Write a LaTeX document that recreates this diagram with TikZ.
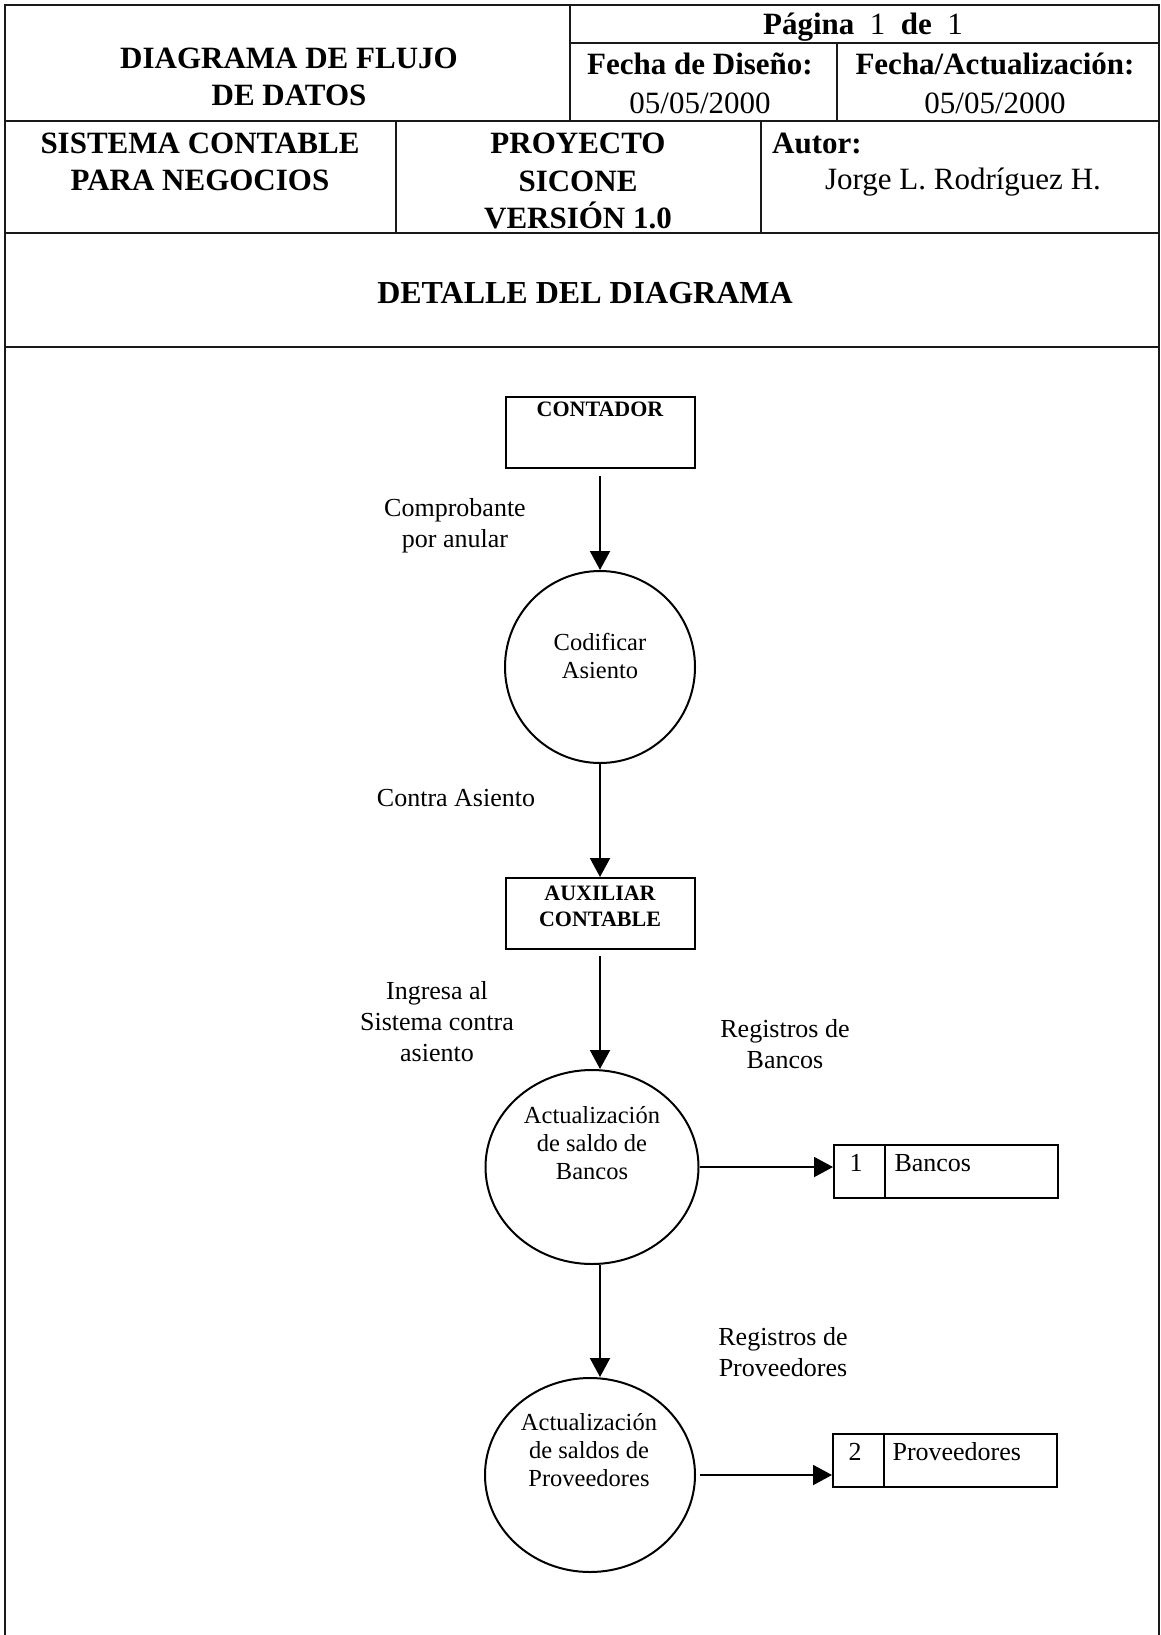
\documentclass[tikz,border=0pt]{standalone}
\usepackage{fontspec}
\setmainfont{Liberation Serif}
\usetikzlibrary{arrows.meta,positioning,shapes.geometric}
\tikzset{
  grid/.style={line width=2.2pt,draw=black!90},
  head/.style={align=center,inner sep=0pt,font=\fontsize{31}{38}\selectfont},
  entity/.style={draw,line width=2pt,minimum width=189pt,minimum height=71pt},
  entitytext/.style={align=center,font=\fontsize{22}{26}\selectfont\bfseries},
  process/.style={draw,ellipse,line width=2pt,inner sep=0pt},
  proctext/.style={align=center,font=\fontsize{24.5}{28}\selectfont},
  store/.style={draw,line width=2pt,minimum width=224pt,minimum height=53pt,inner sep=0pt},
  storetext/.style={font=\fontsize{26}{31}\selectfont},
  flowlabel/.style={align=center,font=\fontsize{26}{31}\selectfont},
  flow/.style={-{Triangle[length=19pt,width=20pt]},line width=2pt}
}

\begin{document}
\begin{tikzpicture}[x=1pt,y=-1pt]
  \useasboundingbox (0,0) rectangle (1161,1635);
  % marco de la hoja
  \draw[grid] (5,1635) -- (5,5) -- (1159,5) -- (1159,1635);
  \draw[grid] (570,5) -- (570,121);
  \draw[grid] (570,43) -- (1159,43);
  \draw[grid] (837,43) -- (837,121);
  \draw[grid] (5,121) -- (1159,121);
  \draw[grid] (396,121) -- (396,233);
  \draw[grid] (761,121) -- (761,233);
  \draw[grid] (5,233) -- (1159,233);
  \draw[grid] (5,347) -- (1159,347);

  % encabezado
  \node[head,font=\fontsize{31}{37}\selectfont\bfseries] (titulo) at (289,77) {DIAGRAMA DE FLUJO\\DE DATOS};
  \node[head,anchor=base] (pagina) at (863,35) {\textbf{Página}\ \ 1\ \ \textbf{de}\ \ 1};
  \node[head,font=\fontsize{31}{39}\selectfont] (diseno) at (700,83) {\textbf{Fecha de Diseño:}\\05/05/2000};
  \node[head,font=\fontsize{31}{39}\selectfont] (actualiz) at (995,83) {\textbf{Fecha/Actualización:}\\05/05/2000};
  \node[head,font=\fontsize{31}{37}\selectfont\bfseries] (sistema) at (200,162) {SISTEMA CONTABLE\\PARA NEGOCIOS};
  \node[head,font=\fontsize{31}{37.5}\selectfont\bfseries] (proyecto) at (578,181) {PROYECTO\\SICONE\\VERSIÓN 1.0};
  \node[head,anchor=west,font=\fontsize{31}{37}\selectfont\bfseries] (autor) at (772,143) {Autor:};
  \node[head] (nombre) at (963,182) {Jorge L. Rodríguez H.};
  \node[head,font=\fontsize{32}{38}\selectfont\bfseries] (detalle) at (585,293) {DETALLE DEL DIAGRAMA};

  % entidades y procesos
  \node[entity] (contador) at (600,432.5) {};
  \node[entitytext,anchor=north] (contador-t) at ([yshift=-2pt]contador.north) {CONTADOR};
  \node[process,minimum width=190pt,minimum height=192pt] (codificar) at (600,667) {};
  \node[proctext] (codificar-t) at (600,656) {Codificar\\Asiento};
  \node[entity] (auxiliar) at (600,913.5) {};
  \node[entitytext] (auxiliar-t) at (600,906) {AUXILIAR\\CONTABLE};
  \node[process,minimum width=213pt,minimum height=194pt] (actbancos) at (592,1167) {};
  \node[proctext] (actbancos-t) at (592,1143) {Actualización\\de saldo de\\Bancos};
  \node[process,minimum width=210pt,minimum height=194pt] (actprov) at (590,1475) {};
  \node[proctext] (actprov-t) at (589,1450) {Actualización\\de saldos de\\Proveedores};

  % almacenes
  \node[store] (bancos) at (946,1171.5) {};
  \draw[line width=2pt] ([xshift=52pt]bancos.north west) -- ([xshift=52pt]bancos.south west);
  \node[storetext] (bancos-n) at (856,1163) {1};
  \node[storetext,anchor=west] (bancos-t) at (891,1163) {Bancos};
  \node[store] (proveedores) at (945,1460) {};
  \draw[line width=2pt] ([xshift=52pt]proveedores.north west) -- ([xshift=52pt]proveedores.south west);
  \node[storetext] (proveedores-n) at (855,1452) {2};
  \node[storetext,anchor=west] (proveedores-t) at (889,1452) {Proveedores};

  % flujos
  \draw[flow,shorten <=7pt] (contador) -- (codificar);
  \draw[flow] (codificar) -- (auxiliar);
  \draw[flow,shorten <=6pt] (auxiliar.south) -- (auxiliar.south |- actbancos.north);
  \draw[flow] (auxiliar.south |- actbancos.south) -- (auxiliar.south |- actprov.north);
  \draw[flow] (actbancos.east) -- (actbancos.east -| bancos.west);
  \draw[flow,shorten <=4pt] (actprov.east) -- (actprov.east -| proveedores.west);

  \node[flowlabel] (l-comprobante) at (455,526) {Comprobante\\por anular};
  \node[flowlabel] (l-contra) at (456,798) {Contra Asiento};
  \node[flowlabel] (l-ingresa) at (437,1022) {Ingresa al\\Sistema contra\\asiento};
  \node[flowlabel] (l-regbancos) at (785,1044) {Registros de\\Bancos};
  \node[flowlabel] (l-regprov) at (783,1352) {Registros de\\Proveedores};
\end{tikzpicture}
\end{document}
